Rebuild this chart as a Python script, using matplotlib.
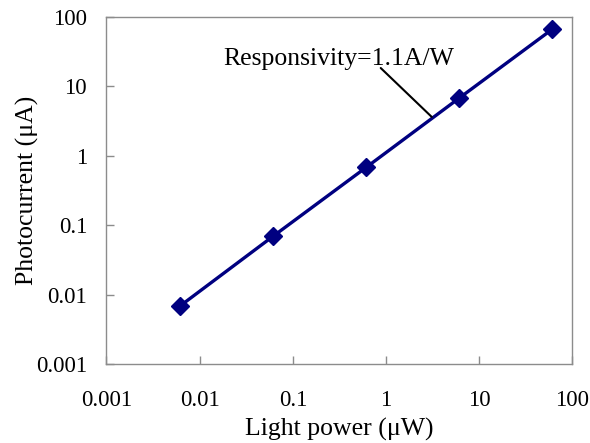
import matplotlib
matplotlib.use("Agg")
import matplotlib.pyplot as plt

plt.rcParams['font.family'] = ['Liberation Serif', 'DejaVu Serif']

light_power = [0.0061, 0.061, 0.61, 6.1, 61]
photocurrent = [0.0068, 0.069, 0.68, 6.8, 67]
x_ticks = [0.001, 0.01, 0.1, 1, 10, 100]
x_tick_labels = ['0.001', '0.01', '0.1', '1', '10', '100']
y_ticks = [0.001, 0.01, 0.1, 1, 10, 100]
y_tick_labels = ['0.001', '0.01', '0.1', '1', '10', '100']

fig = plt.figure(figsize=(5.9, 4.43), dpi=100)
ax = fig.add_axes([0.1805, 0.1783, 0.7898, 0.7833])

ax.plot(light_power, photocurrent, color='#000080', lw=2.4, marker='D',
        markersize=9.5, markerfacecolor='#000080', markeredgecolor='#000080')

ax.set_xscale('log')
ax.set_yscale('log')
ax.set_xlim(0.001, 100)
ax.set_ylim(0.001, 100)
ax.set_xticks(x_ticks)
ax.set_xticklabels(x_tick_labels)
ax.set_yticks(y_ticks)
ax.set_yticklabels(y_tick_labels)
ax.minorticks_off()

for s in ax.spines.values():
    s.set_color('#8c8c8c')
    s.set_linewidth(1.0)
ax.tick_params(axis='both', which='major', direction='in', length=6,
               width=1.0, color='#8c8c8c', labelsize=16.5)
ax.tick_params(axis='x', pad=19)
ax.tick_params(axis='y', pad=14)

ax.set_xlabel('Light power (μW)', fontsize=18.5)
ax.set_ylabel('Photocurrent (μA)', fontsize=18.5)
ax.xaxis.set_label_coords(0.5, -0.155)
ax.yaxis.set_label_coords(-0.145, 0.5)

ax.text(0.25, 0.88, 'Responsivity=1.1A/W', transform=ax.transAxes,
        fontsize=18.5, ha='left', va='center')
ax.annotate('', xy=(0.698, 0.712), xytext=(0.5885, 0.853),
            xycoords='axes fraction', textcoords='axes fraction',
            arrowprops=dict(arrowstyle='-', color='black', lw=1.5,
                            shrinkA=0, shrinkB=0))

fig.savefig('out.png', dpi=100)
